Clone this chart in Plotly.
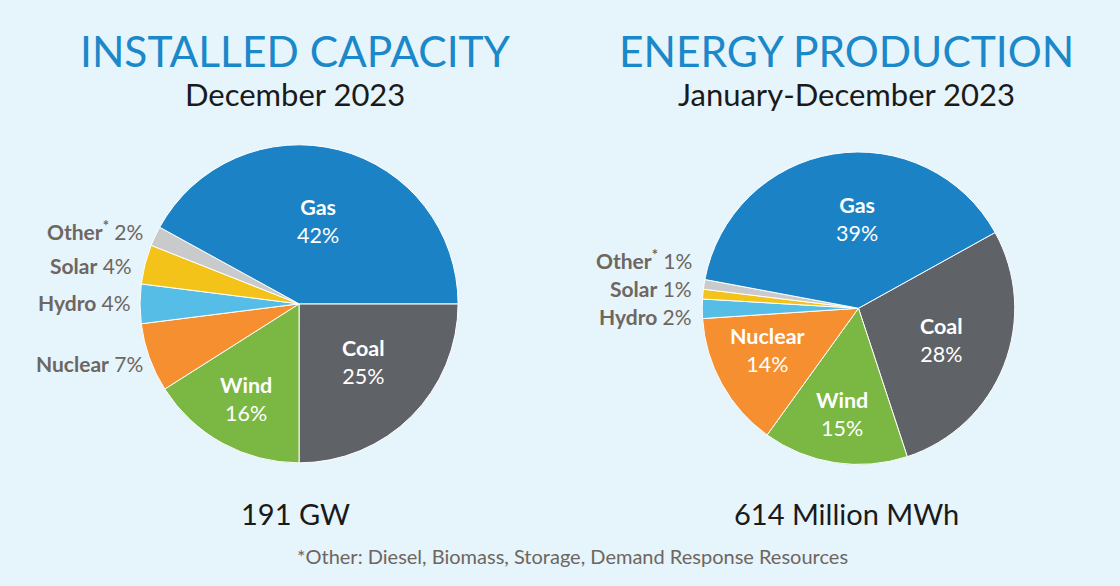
import plotly.graph_objects as go

cap_labels = ["Coal", "Wind", "Nuclear", "Hydro", "Solar", "Other*", "Gas"]
cap_values = [25, 16, 7, 4, 4, 2, 42]
prod_labels = ["Coal", "Wind", "Nuclear", "Hydro", "Solar", "Other*", "Gas"]
prod_values = [28, 15, 14, 2, 1, 1, 39]
colors = {"Coal": "#5F6267", "Wind": "#7BB843", "Nuclear": "#F68F2F", "Hydro": "#56BEE6",
          "Solar": "#F4C31A", "Other*": "#C9CACC", "Gas": "#1B82C5"}

BG = "#E6F4FB"
FONT = "Lato"

fig = go.Figure()
fig.add_trace(go.Pie(labels=cap_labels, values=cap_values, sort=False, direction="clockwise",
                     rotation=90, textinfo="none", hoverinfo="label+percent",
                     marker=dict(colors=[colors[l] for l in cap_labels], line=dict(color="white", width=1)),
                     domain=dict(x=[0.125, 0.409], y=[0.210, 0.753]), showlegend=False))
fig.add_trace(go.Pie(labels=prod_labels, values=prod_values, sort=False, direction="clockwise",
                     rotation=61, textinfo="none", hoverinfo="label+percent",
                     marker=dict(colors=[colors[l] for l in prod_labels], line=dict(color="white", width=1)),
                     domain=dict(x=[0.627, 0.906], y=[0.206, 0.742]), showlegend=False))

W, H = 1120, 586
ann = []

def add(x, y, text, size, color, xanchor="center"):
    ann.append(dict(x=x / W, y=1 - y / H, xref="paper", yref="paper", text=text, showarrow=False,
                    xanchor=xanchor, yanchor="middle", font=dict(family=FONT, size=size, color=color)))

def pct_of(labels, values, name):
    return values[labels.index(name)]

# titles
add(295, 51, "INSTALLED CAPACITY", 42.5, "#1A88C9")
add(295, 94, "December 2023", 31, "#1a1a1a")
add(846, 51, "ENERGY PRODUCTION", 42.5, "#1A88C9")
add(846, 94, "January-December 2023", 31, "#1a1a1a")

# inside labels
def inside(x, y, labels, values, name):
    add(x, y, f"<b>{name}</b><br>{pct_of(labels, values, name)}%", 21.5, "white")

inside(318, 221, cap_labels, cap_values, "Gas")
inside(363, 362, cap_labels, cap_values, "Coal")
inside(246, 399, cap_labels, cap_values, "Wind")
inside(857, 219, prod_labels, prod_values, "Gas")
inside(941, 340, prod_labels, prod_values, "Coal")
inside(842, 414, prod_labels, prod_values, "Wind")
inside(767, 350, prod_labels, prod_values, "Nuclear")

OUT = "#6D6661"

def outside(x, y, labels, values, name):
    nm = "Other<sup>*</sup>" if name == "Other*" else name
    add(x, y, f"<b>{nm}</b> {pct_of(labels, values, name)}%", 21, OUT, xanchor="right")

outside(145, 230, cap_labels, cap_values, "Other*")
outside(134, 265, cap_labels, cap_values, "Solar")
outside(133, 302, cap_labels, cap_values, "Hydro")
outside(145, 363, cap_labels, cap_values, "Nuclear")
outside(694, 259, prod_labels, prod_values, "Other*")
outside(694, 288, prod_labels, prod_values, "Solar")
outside(694, 316, prod_labels, prod_values, "Hydro")

add(295, 513, "191 GW", 29, "#1a1a1a")
add(846, 513, "614 Million MWh", 29, "#1a1a1a")
add(572, 556, "*Other: Diesel, Biomass, Storage, Demand Response Resources", 20, "#6D6661")

fig.update_layout(width=W, height=H, margin=dict(l=0, r=0, t=0, b=0),
                  paper_bgcolor=BG, plot_bgcolor=BG, annotations=ann, showlegend=False)
fig.write_html("out.html", config={"displayModeBar": False},
               post_script="document.body.style.margin='0';document.body.style.background='%s';" % BG)
